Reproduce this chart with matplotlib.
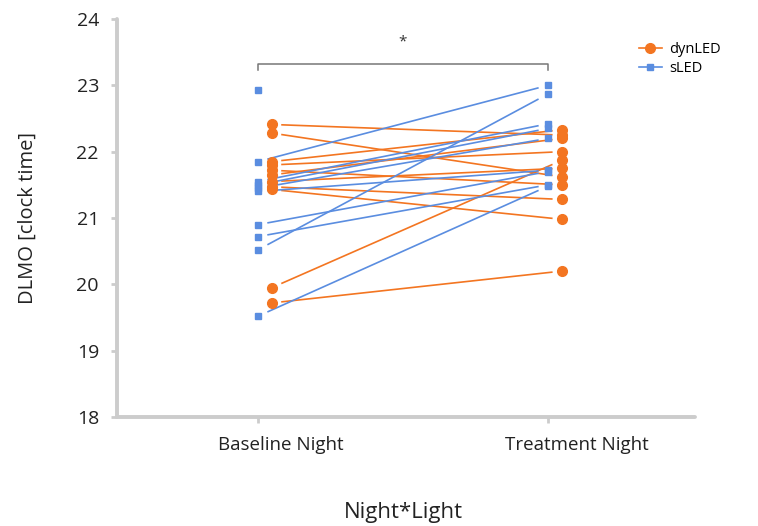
"""DLMO per participant, baseline vs treatment night, by light condition."""

import matplotlib
matplotlib.use("Agg")
import matplotlib.pyplot as plt
import numpy as np

NIGHTS = ["Baseline Night", "Treatment Night"]
YTICKS = [18, 19, 20, 21, 22, 23, 24]

# dynLED participants (baseline, treatment)
dyn_base = [22.41, 22.28, 21.85, 21.80, 21.72, 21.65, 21.55, 21.47, 21.43, 19.95, 19.72]
dyn_treat = [22.25, 21.62, 22.33, 22.00, 21.50, 22.20, 21.75, 21.28, 20.98, 21.87, 20.20]

# sLED participants (one without a treatment value)
sled_base = [22.93, 21.85, 21.55, 21.50, 21.45, 21.40, 20.90, 20.72, 20.52, 19.52]
sled_treat = [np.nan, 23.00, 22.42, 22.35, 22.20, 21.72, 21.70, 21.50, 22.87, 21.48]

ORANGE = "#f37521"
BLUE = "#5a8de0"
SPINE = "#cccccc"
TEXT = "#222222"

plt.rcParams.update({"font.family": ["Open Sans", "DejaVu Sans"]})

fig = plt.figure(figsize=(7.58, 5.26), dpi=100)
ax = fig.add_axes([0.1544, 0.2072, 0.7625, 0.7567])


def draw_group(ax, base, treat, offset, color, marker, ms, label):
    base = np.asarray(base, dtype=float)
    treat = np.asarray(treat, dtype=float)
    x0, x1 = 0 + offset, 1 + offset
    trim = 0.035
    for b, t in zip(base, treat):
        if np.isnan(b) or np.isnan(t):
            continue
        xs = [x0 + trim * (x1 - x0), x1 - trim * (x1 - x0)]
        ys = [b + trim * (t - b), t - trim * (t - b)]
        ax.plot(xs, ys, color=color, lw=1.2, zorder=2)
    ax.plot(np.full(len(base), x0), base, ls="none", marker=marker, ms=ms,
            color=color, mec=color, zorder=3)
    ax.plot(np.full(len(treat), x1), treat, ls="none", marker=marker, ms=ms,
            color=color, mec=color, zorder=3)
    ax.plot([], [], color=color, marker=marker, ms=ms, lw=1.2, label=label)


draw_group(ax, dyn_base, dyn_treat, 0.048, ORANGE, "o", 7, "dynLED")
draw_group(ax, sled_base, sled_treat, 0.0, BLUE, "s", 3.8, "sLED")

# significance bracket
ax.plot([0, 0, 1, 1], [23.23, 23.32, 23.32, 23.23], color="#777777", lw=1.1)
ax.text(0.5, 23.66, "*", ha="center", va="center", fontsize=11, color="#333333")

ax.set_xlim(-0.486, 1.507)
ax.set_ylim(18, 24)
ax.set_yticks(YTICKS)
# ticks sit on the groups, labels are shifted a bit to the right
ax.set_xticks([0, 1])
ax.set_xticklabels([])
ax.set_xticks([0.079, 1.10], minor=True)
ax.set_xticklabels(NIGHTS, minor=True)

for side in ["top", "right"]:
    ax.spines[side].set_visible(False)
for side in ["left", "bottom"]:
    ax.spines[side].set_color(SPINE)
    ax.spines[side].set_linewidth(2.8)
    ax.spines[side].set_capstyle("round")
ax.tick_params(axis="both", colors=SPINE, width=2, length=4, labelcolor=TEXT,
               labelsize=14)
ax.tick_params(axis="x", which="minor", length=0, pad=14, labelsize=13.5,
               labelcolor=TEXT)
ax.tick_params(axis="y", pad=9)

ax.set_ylabel("DLMO [clock time]", fontsize=14.5, color=TEXT, labelpad=28)
fig.text(0.532, 0.025, "Night*Light", ha="center", va="center", fontsize=16,
         color=TEXT)

ax.legend(loc="upper left", bbox_to_anchor=(0.88, 0.975), frameon=False,
          fontsize=10.5, handlelength=1.6, handletextpad=0.5, labelspacing=0.3)

fig.savefig("out.png", dpi=100)
